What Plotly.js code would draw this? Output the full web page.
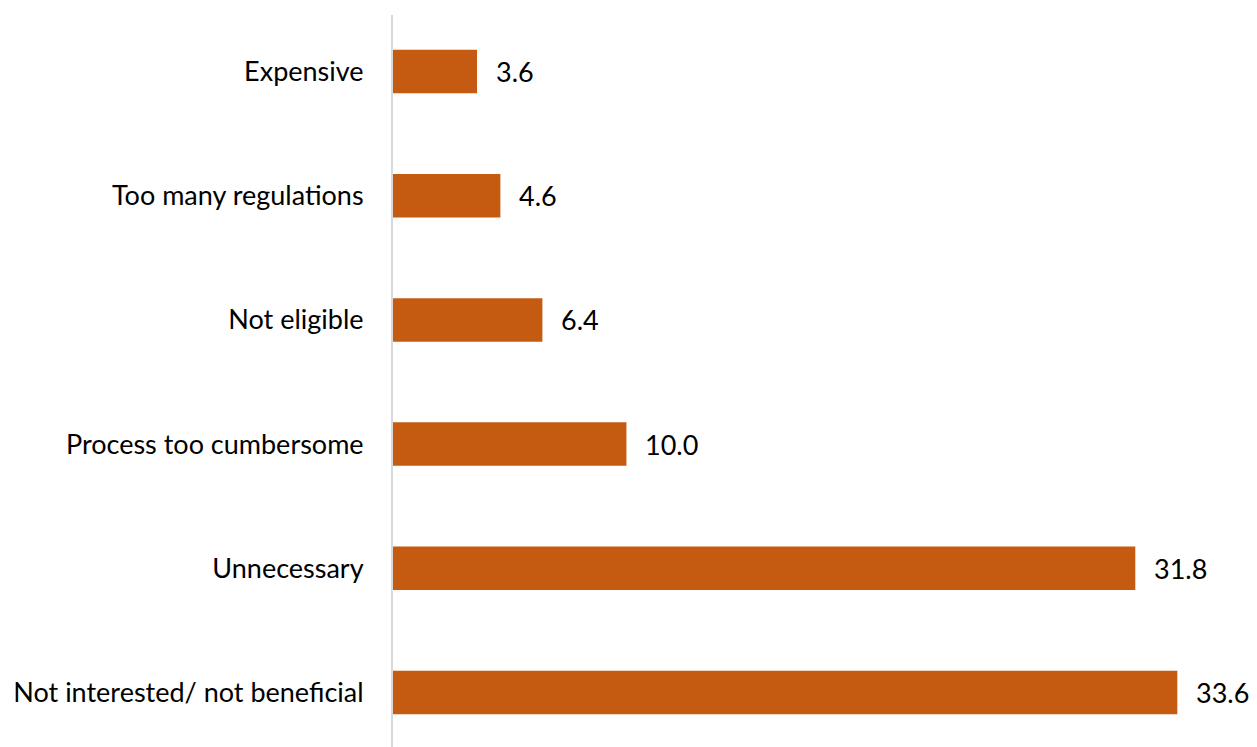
<!DOCTYPE html>
<html>
<head>
<meta charset="utf-8">
<script src="https://cdn.plot.ly/plotly-3.0.1.min.js"></script>
<style>html,body{margin:0;padding:0;background:#fff;}#chart{width:1257px;height:747px;}</style>
</head>
<body>
<div id="chart"></div>
<script>
const categories = ["Expensive", "Too many regulations", "Not eligible", "Process too cumbersome", "Unnecessary", "Not interested/ not beneficial"];
const values = [3.6, 4.6, 6.4, 10.0, 31.8, 33.6];
const valueLabels = ["3.6", "4.6", "6.4", "10.0", "31.8", "33.6"];

const FONT = "Lato, 'Open Sans', sans-serif";

const trace = {
  type: "bar",
  orientation: "h",
  x: values,
  y: categories,
  marker: { color: "#C55A11" },
  hoverinfo: "none"
};

const annotations = categories.map((c, i) => ({
  x: values[i], y: c, xref: "x", yref: "y",
  text: valueLabels[i], showarrow: false,
  xanchor: "left", yanchor: "middle", xshift: 17,
  font: { family: FONT, size: 27, color: "#000000" }
}));

const layout = {
  width: 1257, height: 747,
  margin: { l: 393, r: 26, t: 15, b: 0, pad: 0 },
  paper_bgcolor: "#ffffff", plot_bgcolor: "#ffffff",
  showlegend: false,
  bargap: 0.65,
  xaxis: {
    range: [0, 35.9], showgrid: false, zeroline: false, showline: false,
    showticklabels: false, ticks: "", fixedrange: true
  },
  yaxis: {
    type: "category",
    categoryorder: "array", categoryarray: categories,
    range: [5.439, -0.455],
    showgrid: false, zeroline: false,
    showline: true, linecolor: "#D9D9D9", linewidth: 2,
    ticks: "", ticklabelstandoff: 22,
    tickfont: { family: FONT, size: 27, color: "#000000" },
    fixedrange: true
  },
  annotations: annotations
};

Plotly.newPlot("chart", [trace], layout, { displayModeBar: false, staticPlot: true });
</script>
</body>
</html>
